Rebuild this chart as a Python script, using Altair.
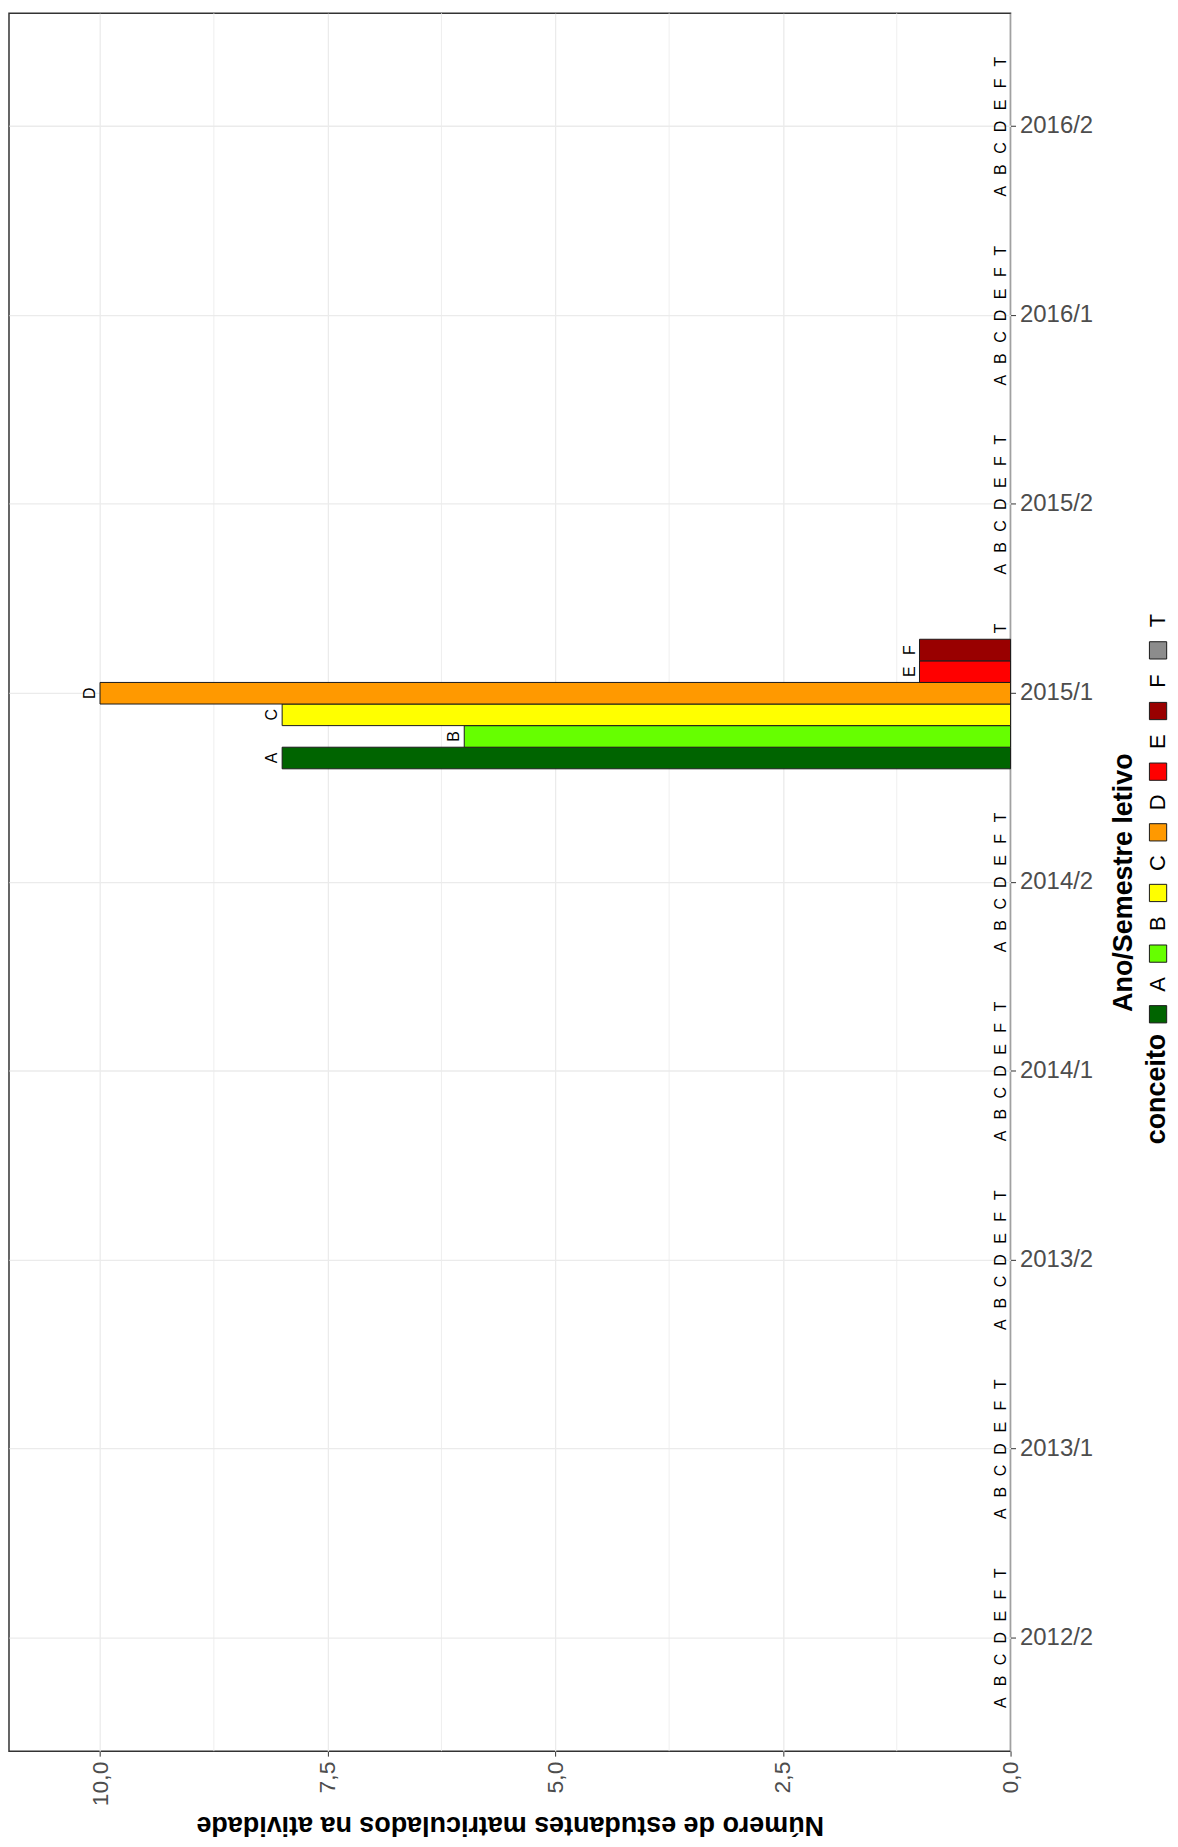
import altair as alt
import pandas as pd

semestres = ["2012/2", "2013/1", "2013/2", "2014/1", "2014/2",
             "2015/1", "2015/2", "2016/1", "2016/2"]
conceitos = ["A", "B", "C", "D", "E", "F", "T"]
cores = ["#006400", "#66FF00", "#FFFF00", "#FF9900", "#FF0000", "#990000", "#8C8C8C"]

n_2012_2 = [0, 0, 0, 0, 0, 0, 0]
n_2013_1 = [0, 0, 0, 0, 0, 0, 0]
n_2013_2 = [0, 0, 0, 0, 0, 0, 0]
n_2014_1 = [0, 0, 0, 0, 0, 0, 0]
n_2014_2 = [0, 0, 0, 0, 0, 0, 0]
n_2015_1 = [8, 6, 8, 10, 1, 1, 0]
n_2015_2 = [0, 0, 0, 0, 0, 0, 0]
n_2016_1 = [0, 0, 0, 0, 0, 0, 0]
n_2016_2 = [0, 0, 0, 0, 0, 0, 0]
valores = [n_2012_2, n_2013_1, n_2013_2, n_2014_1, n_2014_2,
           n_2015_1, n_2015_2, n_2016_1, n_2016_2]

x_ticks = [0, 2.5, 5, 7.5, 10]
x_minor = [1.25, 3.75, 6.25, 8.75]

rows = []
for s, vals in zip(semestres, valores):
    for c, v in zip(conceitos, vals):
        rows.append({"semestre": s, "conceito": c, "n": v})
df = pd.DataFrame(rows)

FONT = "Liberation Sans"
W, H = 1005, 1744

x_scale = alt.Scale(domain=[0, 11.0], reverse=True, nice=False, zero=True)
y_scale = alt.Scale(domain=list(reversed(semestres)), paddingInner=0.2, paddingOuter=0.2)
yoff_scale = alt.Scale(domain=list(reversed(conceitos)), paddingInner=0, paddingOuter=0)
color_scale = alt.Scale(domain=conceitos, range=cores)

x_axis = alt.Axis(
    title="Número de estudantes matriculados na atividade",
    values=x_ticks,
    labelExpr="replace(format(datum.value, '.1f'), '.', ',')",
    labelAngle=270, labelAlign="right", labelBaseline="middle",
    labelFlush=False, labelFontSize=23, labelColor="#4d4d4d", labelFont=FONT,
    labelPadding=5,
    tickColor="#333333", tickSize=5, tickWidth=1, domain=False,
    grid=True, gridColor="#ebebeb", gridWidth=1.3,
    titleAngle=180, titleBaseline="bottom", titleFontSize=27, titleFont=FONT,
    titleFontWeight="bold", titleColor="black", titlePadding=5)

y_axis = alt.Axis(
    orient="right", title="Ano/Semestre letivo", bandPosition=0.5,
    labelAngle=0, labelFontSize=24, labelColor="#4d4d4d", labelFont=FONT,
    labelPadding=4, tickColor="#333333", tickSize=5, tickWidth=1, domain=False,
    grid=True, gridColor="#ebebeb", gridWidth=1.3,
    titleAngle=270, titleBaseline="top", titleFontSize=27, titleFont=FONT,
    titleFontWeight="bold", titleColor="black", titlePadding=18)

bars = alt.Chart(df).transform_filter("datum.n > 0").mark_bar(
    stroke="#1a1a1a", strokeWidth=1
).encode(
    x=alt.X("n:Q", scale=x_scale, axis=x_axis),
    y=alt.Y("semestre:N", scale=y_scale, axis=y_axis),
    yOffset=alt.YOffset("conceito:N", scale=yoff_scale),
    color=alt.Color("conceito:N", scale=color_scale, legend=None),
)

minor = alt.Chart(pd.DataFrame({"v": x_minor})).mark_rule(
    color="#ebebeb", strokeWidth=0.8
).encode(x=alt.X("v:Q", scale=x_scale, axis=x_axis))

labels = alt.Chart(df).mark_text(
    angle=270, baseline="alphabetic", align="center", dy=-5,
    fontSize=16, font=FONT, color="black"
).encode(
    x=alt.X("n:Q", scale=x_scale, axis=x_axis),
    y=alt.Y("semestre:N", scale=y_scale, axis=y_axis),
    yOffset=alt.YOffset("conceito:N", scale=yoff_scale),
    text="conceito:N",
)

main = alt.layer(minor, bars, labels).properties(width=W, height=H)

leg_df = pd.DataFrame({"conceito": conceitos})
leg_scale = alt.Scale(domain=list(reversed(conceitos)), range=[609, 1035],
                      paddingInner=0, paddingOuter=0)
LX = 11

leg_sq = alt.Chart(leg_df).mark_square(
    size=300, stroke="#1a1a1a", strokeWidth=1, opacity=1, filled=True
).encode(
    x=alt.value(LX),
    y=alt.Y("conceito:N", scale=leg_scale, axis=None),
    color=alt.Color("conceito:N", scale=color_scale, legend=None),
)
leg_txt = alt.Chart(leg_df).mark_text(
    angle=270, baseline="middle", align="center", dx=30,
    fontSize=22, font=FONT, color="black"
).encode(
    x=alt.value(LX),
    y=alt.Y("conceito:N", scale=leg_scale, axis=None),
    text="conceito:N",
)
leg_title = alt.Chart(pd.DataFrame({"conceito": ["A"], "titulo": ["conceito"]})).mark_text(
    angle=270, baseline="middle", align="center", dx=-75,
    fontSize=27, font=FONT, fontWeight="bold", color="black"
).encode(
    x=alt.value(LX - 1),
    y=alt.Y("conceito:N", scale=leg_scale, axis=None),
    text="titulo:N",
)
legend = alt.layer(leg_sq, leg_txt, leg_title).properties(
    width=12, height=H, view=alt.ViewBackground(stroke="transparent", strokeWidth=0)
)

chart = alt.hconcat(main, legend, spacing=5).properties(
    padding={"left": 0, "top": 0, "right": 0, "bottom": 0},
    background="white",
).configure_view(stroke="#333333", strokeWidth=1.5)

chart.save("out.html", embed_options={"renderer": "svg", "actions": False})
